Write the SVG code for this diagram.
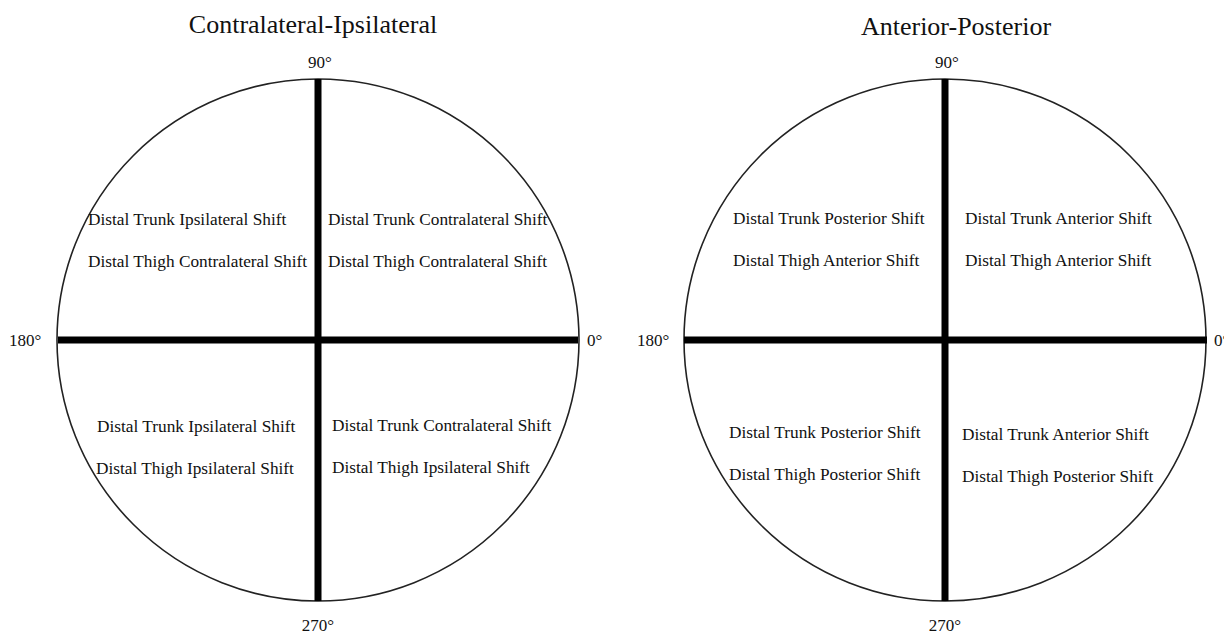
<svg xmlns="http://www.w3.org/2000/svg" width="1224" height="634" viewBox="0 0 1224 634">
<style>
text{font-family:"Liberation Serif","Times New Roman",serif;fill:#111}
.title{font-size:26px;text-anchor:middle}
.deg{font-size:17px}
.mid{text-anchor:middle}
.q{font-size:17.3px}
.circ{fill:#fff;stroke:#222;stroke-width:1.6}
.bar{stroke:#000;stroke-width:7}
</style>
<rect width="1224" height="634" fill="#fff"/>
<g id="left-diagram">
  <text class="title" x="313" y="33">Contralateral-Ipsilateral</text>
  <circle class="circ" cx="318" cy="340" r="261"/>
  <g id="left-axes">
    <line class="bar" x1="318" y1="79" x2="318" y2="601"/>
    <line class="bar" x1="58" y1="340" x2="578" y2="340"/>
  </g>
  <text class="deg mid" x="320" y="68">90°</text>
  <text class="deg" x="9" y="346">180°</text>
  <text class="deg" x="587" y="346">0°</text>
  <text class="deg mid" x="318" y="631">270°</text>
  <g id="left-q1"><text class="q" x="328" y="225">Distal Trunk Contralateral Shift</text><text class="q" x="328" y="267">Distal Thigh Contralateral Shift</text></g>
  <g id="left-q2"><text class="q" x="88" y="225">Distal Trunk Ipsilateral Shift</text><text class="q" x="88" y="267">Distal Thigh Contralateral Shift</text></g>
  <g id="left-q3"><text class="q" x="97" y="432">Distal Trunk Ipsilateral Shift</text><text class="q" x="96" y="474">Distal Thigh Ipsilateral Shift</text></g>
  <g id="left-q4"><text class="q" x="332" y="431">Distal Trunk Contralateral Shift</text><text class="q" x="332" y="473">Distal Thigh Ipsilateral Shift</text></g>
</g>
<g id="right-diagram">
  <text class="title" x="956" y="35">Anterior-Posterior</text>
  <circle class="circ" cx="945" cy="340" r="261"/>
  <g id="right-axes">
    <line class="bar" x1="945" y1="79" x2="945" y2="601"/>
    <line class="bar" x1="684" y1="340" x2="1207" y2="340"/>
  </g>
  <text class="deg mid" x="947" y="68">90°</text>
  <text class="deg" x="637" y="346">180°</text>
  <text class="deg" x="1214" y="346">0°</text>
  <text class="deg mid" x="945" y="631">270°</text>
  <g id="right-q1"><text class="q" x="965" y="224">Distal Trunk Anterior Shift</text><text class="q" x="965" y="266">Distal Thigh Anterior Shift</text></g>
  <g id="right-q2"><text class="q" x="733" y="224">Distal Trunk Posterior Shift</text><text class="q" x="733" y="266">Distal Thigh Anterior Shift</text></g>
  <g id="right-q3"><text class="q" x="729" y="438">Distal Trunk Posterior Shift</text><text class="q" x="729" y="480">Distal Thigh Posterior Shift</text></g>
  <g id="right-q4"><text class="q" x="962" y="440">Distal Trunk Anterior Shift</text><text class="q" x="962" y="482">Distal Thigh Posterior Shift</text></g>
</g>
</svg>
